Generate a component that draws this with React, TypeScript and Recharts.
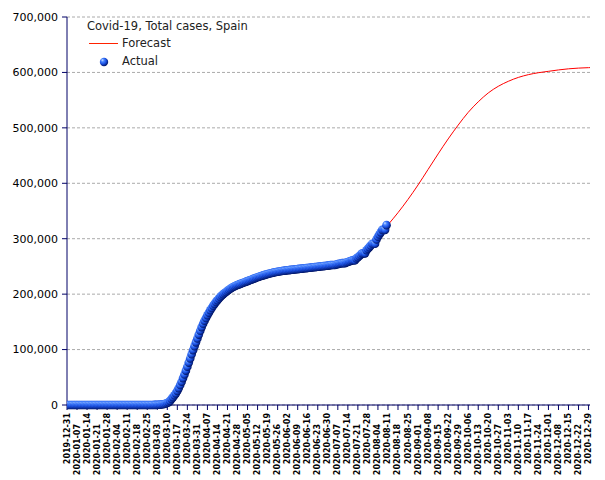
import React from 'react';
import { ComposedChart, Line, Scatter, XAxis, YAxis, CartesianGrid } from 'recharts';

// weekly x-axis labels, first one is day 0 (2019-12-31)
const tickLabels = [
  '2019-12-31', '2020-01-07', '2020-01-14', '2020-01-21', '2020-01-28', '2020-02-04', '2020-02-11',
  '2020-02-18', '2020-02-25', '2020-03-03', '2020-03-10', '2020-03-17', '2020-03-24', '2020-03-31',
  '2020-04-07', '2020-04-14', '2020-04-21', '2020-04-28', '2020-05-05', '2020-05-12', '2020-05-19',
  '2020-05-26', '2020-06-02', '2020-06-09', '2020-06-16', '2020-06-23', '2020-06-30', '2020-07-07',
  '2020-07-14', '2020-07-21', '2020-07-28', '2020-08-04', '2020-08-11', '2020-08-18', '2020-08-25',
  '2020-09-01', '2020-09-08', '2020-09-15', '2020-09-22', '2020-09-29', '2020-10-06', '2020-10-13',
  '2020-10-20', '2020-10-27', '2020-11-03', '2020-11-10', '2020-11-17', '2020-11-24', '2020-12-01',
  '2020-12-08', '2020-12-15', '2020-12-22', '2020-12-29',
];

const yTicks = [0, 100000, 200000, 300000, 400000, 500000, 600000, 700000];

// daily actual totals, from 2019-12-31 to 2020-08-10
const actualCases = [
  0, 0, 0, 0, 0, 0, 0, 0, 0, 0, 0, 0, 0, 0, 0, 0, 0, 0, 0, 0, 0, 0, 0, 0, 0, 0, 0, 0, 0, 0, 0,
  1, 1, 1, 1, 1, 1, 1, 1, 1,
  2, 2, 2, 2, 2, 2, 2, 2, 2, 2, 2, 2, 2, 2, 2, 2,
  10, 20, 35, 55, 80,
  150, 220, 320, 460, 650, 900, 1250, 1800, 2600, 3700, 5200, 7500,
  11000, 14000, 17500, 21000, 25500, 30500, 36000, 42000, 48500, 55000, 62000, 69000, 76500,
  84000, 91500, 99000, 106000, 113000, 120000,
  127000, 134000, 140500, 146500, 152000, 157000, 162000, 166500, 171000, 175000, 179000, 182500,
  186000, 189000, 192000, 195000, 197500, 200000, 202000, 204000, 206000, 208000, 209800, 211500,
  213000, 214300, 215500, 216600, 217600, 218500,
  219500, 220500, 221500, 222500, 223500, 224500, 225500, 226500, 227500, 228500, 229500, 230500,
  231500, 232300, 233100, 233900, 234700, 235500, 236200, 236900, 237600, 238200, 238800, 239400,
  239900, 240400, 240900, 241300, 241700, 242100, 242500,
  242800, 243100, 243400, 243700, 244000, 244300, 244600, 244900, 245200, 245500, 245800, 246100,
  246400, 246700, 247000, 247300, 247600, 247900, 248200, 248500, 248800, 249100, 249400, 249700,
  250000, 250300, 250600, 250900, 251200, 251500,
  251900, 252300, 252700, 252700, 252700, 253500, 254100, 254700, 255300, 255900, 255900, 255900,
  257200, 258000, 258900, 259900, 261000, 261000, 261000, 264500, 266600, 268800, 271100, 273600,
  273600, 273600, 279200, 281900, 284800, 287800, 290800,
  290800, 290800, 298500, 303500, 307500, 311500, 316000, 316000, 316000, 324500,
];

// forecast, sampled weekly (day index from 2019-12-31)
const forecastDays = [
  0, 7, 14, 21, 28, 35, 42, 49, 56, 63, 70, 77, 84, 91, 98, 105, 112, 119, 126, 133, 140, 147,
  154, 161, 168, 175, 182, 189, 196, 203, 210, 217, 224, 231, 238, 245, 252, 259, 266, 273, 280,
  287, 294, 301, 308, 315, 322, 329, 336, 343, 350, 357, 364, 365,
];
const forecastCases = [
  0, 0, 0, 0, 0, 0, 0, 0, 0, 1000, 9000, 32000, 75000, 122000, 163000, 190000, 206000, 216000,
  223000, 230000, 236000, 240500, 243500, 246000, 248000, 250000, 252000, 254500, 258000, 266000,
  281000, 303000, 325000, 347000, 371000, 397000, 425000, 453000, 480000, 505000, 528000, 547000,
  563000, 575000, 584000, 591000, 596000, 599500, 602000, 604500, 606500, 607800, 608600, 608700,
];

const actualData = actualCases.map((value, day) => ({ day, value }));
const forecastData = forecastDays.map((day, i) => ({ day, value: forecastCases[i] }));
const xTicks = tickLabels.map((_, i) => i * 7);

const AXIS = '#000066';
const FONT = '"DejaVu Sans", Verdana, sans-serif';

const DateTick = (props: any) => {
  const { x, y, payload, index } = props;
  const top = y + 1 + (index % 2 === 1 ? 11 : 0);
  return (
    <text
      x={x}
      y={top}
      transform={`rotate(-90, ${x}, ${top})`}
      textAnchor="end"
      dominantBaseline="central"
      fontSize={8}
      fontWeight="bold"
      fontFamily={FONT}
      fill="#000"
    >
      {tickLabels[payload.value / 7]}
    </text>
  );
};

const Ball = (props: any) => {
  const { cx, cy } = props;
  if (cx == null || cy == null) return null;
  return <circle cx={cx} cy={cy} r={4.3} fill="url(#ball)" />;
};

const BallDefs = ({ id }: { id: string }) => (
  <defs>
    <radialGradient id={id} cx="40%" cy="38%" r="62%" fx="30%" fy="26%">
      <stop offset="0%" stopColor="#d0e2ff" />
      <stop offset="30%" stopColor="#4a86ff" />
      <stop offset="65%" stopColor="#1a4fe0" />
      <stop offset="100%" stopColor="#001466" />
    </radialGradient>
  </defs>
);

const legendText: React.CSSProperties = {
  position: 'absolute',
  fontFamily: FONT,
  fontSize: 11.5,
  lineHeight: '14px',
  color: '#222',
  whiteSpace: 'nowrap',
};

export default function App() {
  return (
    <div style={{ position: 'absolute', left: 0, top: 0, width: 605, height: 480, background: '#fff' }}>
      <ComposedChart width={605} height={480} margin={{ top: 17, right: 15, bottom: 0, left: 0 }}>
        <BallDefs id="ball" />
        <CartesianGrid vertical={false} stroke="#aaaaaa" strokeDasharray="3 2" />
        <XAxis
          dataKey="day"
          type="number"
          domain={[0, 365]}
          ticks={xTicks}
          interval={0}
          height={75}
          tickSize={5}
          stroke={AXIS}
          tickLine={{ stroke: AXIS }}
          tick={<DateTick />}
          allowDataOverflow
        />
        <YAxis
          type="number"
          domain={[0, 700000]}
          ticks={yTicks}
          width={67}
          tickSize={5}
          tickMargin={4}
          stroke={AXIS}
          tickFormatter={(v: number) => v.toLocaleString('en-US')}
          tick={{ fill: '#000', fontSize: 11, fontFamily: FONT }}
        />
        <Line
          data={forecastData}
          dataKey="value"
          type="monotone"
          stroke="#ff0000"
          strokeWidth={1}
          dot={false}
          activeDot={false}
          isAnimationActive={false}
        />
        <Scatter data={actualData} dataKey="value" shape={<Ball />} isAnimationActive={false} />
      </ComposedChart>

      <div style={{ ...legendText, left: 87, top: 19 }}>Covid-19, Total cases, Spain</div>
      <div style={{ position: 'absolute', left: 89, top: 43, width: 29, height: 1, background: '#ff2200' }} />
      <div style={{ ...legendText, left: 122, top: 36 }}>Forecast</div>
      <svg style={{ position: 'absolute', left: 99, top: 57 }} width={10} height={10}>
        <BallDefs id="ball-legend" />
        <circle cx={5} cy={5} r={4.2} fill="url(#ball-legend)" />
      </svg>
      <div style={{ ...legendText, left: 122, top: 54 }}>Actual</div>
    </div>
  );
}
